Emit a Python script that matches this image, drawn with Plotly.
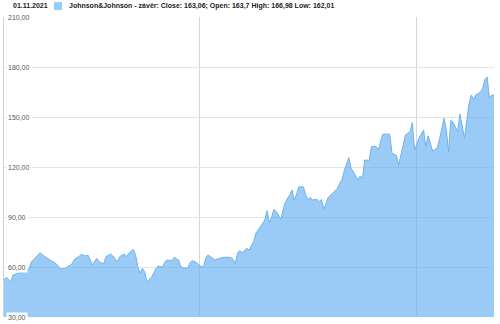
import plotly.graph_objects as go

dates = [
    "2003-11", "2003-12", "2004-02", "2004-03", "2004-05", "2004-07", "2004-08", "2004-10",
    "2004-11", "2005-01", "2005-02", "2005-03", "2005-04", "2005-06", "2005-08", "2005-10",
    "2005-12", "2006-02", "2006-03", "2006-05", "2006-06", "2006-08", "2006-09", "2006-11",
    "2006-12", "2007-02", "2007-04", "2007-05", "2007-07", "2007-08", "2007-10", "2007-11",
    "2008-01", "2008-02", "2008-04", "2008-05", "2008-06", "2008-08", "2008-09", "2008-10",
    "2008-11", "2008-12", "2009-01", "2009-02", "2009-03", "2009-04", "2009-05", "2009-06",
    "2009-07", "2009-09", "2009-10", "2009-11", "2010-01", "2010-02", "2010-04", "2010-05",
    "2010-06", "2010-08", "2010-09", "2010-10", "2010-12", "2011-01", "2011-03", "2011-04",
    "2011-05", "2011-07", "2011-08", "2011-10", "2011-12", "2012-03", "2012-04", "2012-05",
    "2012-06", "2012-07", "2012-08", "2012-10", "2012-11", "2013-01", "2013-02", "2013-04",
    "2013-05", "2013-06", "2013-07", "2013-08", "2013-09", "2013-10", "2013-11", "2014-01",
    "2014-02", "2014-03", "2014-04", "2014-05", "2014-06", "2014-07", "2014-08", "2014-09",
    "2014-11", "2014-12", "2015-01", "2015-02", "2015-03", "2015-05", "2015-06", "2015-07",
    "2015-08", "2015-10", "2015-11", "2015-12", "2016-02", "2016-03", "2016-04", "2016-05",
    "2016-07", "2016-08", "2016-09", "2016-11", "2016-12", "2017-01", "2017-02", "2017-04",
    "2017-05", "2017-07", "2017-08", "2017-10", "2017-11", "2018-01", "2018-02", "2018-04",
    "2018-05", "2018-07", "2018-08", "2018-10", "2018-11", "2018-12", "2019-02", "2019-04",
    "2019-05", "2019-06", "2019-08", "2019-10", "2019-11", "2020-01", "2020-02", "2020-03",
    "2020-04", "2020-05", "2020-07", "2020-08", "2020-09", "2020-10", "2020-12", "2021-01",
    "2021-02", "2021-03", "2021-05", "2021-06", "2021-07", "2021-08", "2021-09", "2021-10",
    "2021-11",
]

close = [
    52.2, 53.8, 51.2, 55.2, 56.2, 56.8, 57.8, 58.6,
    63.0, 66.0, 67.2, 68.6, 67.2, 65.2, 63.6, 62.0,
    58.8, 59.2, 60.0, 61.8, 64.6, 66.2, 67.6, 66.6,
    67.2, 61.2, 65.2, 63.0, 62.0, 66.2, 67.8, 66.6,
    63.2, 66.2, 67.8, 66.2, 68.2, 70.6, 67.2, 60.0,
    56.2, 59.2, 57.2, 50.6, 52.6, 53.8, 56.2, 59.2,
    60.6, 60.0, 63.2, 64.2, 63.8, 65.8, 64.2, 60.0,
    59.6, 59.2, 62.6, 63.8, 62.6, 61.0, 59.8, 65.8,
    67.2, 65.2, 64.2, 65.2, 65.8, 65.8, 64.6, 62.0,
    68.6, 69.8, 68.6, 71.2, 70.2, 75.2, 80.2, 84.2,
    86.2, 88.2, 93.8, 86.6, 90.2, 94.6, 93.2, 88.6,
    94.2, 98.6, 101.2, 103.2, 106.2, 100.2, 103.8, 108.2,
    108.0, 103.2, 100.2, 101.8, 100.2, 100.6, 99.2, 100.6,
    94.6, 101.8, 103.2, 104.2, 107.2, 110.2, 112.2, 117.7,
    125.6, 119.2, 117.2, 112.2, 114.6, 113.2, 124.2, 124.0,
    132.2, 132.4, 130.2, 139.7, 139.7, 139.7, 128.2, 127.0,
    121.2, 132.6, 139.2, 141.2, 146.6, 130.2, 137.5, 142.2,
    132.2, 138.7, 129.5, 131.5, 136.7, 149.2, 142.2, 129.2,
    148.0, 146.8, 141.2, 151.8, 145.2, 137.2, 158.2, 163.2,
    160.4, 163.2, 164.9, 166.9, 172.4, 174.0, 161.2, 163.2,
    163.06,
]

y_ticks = [30, 60, 90, 120, 150, 180, 210]
x_grid = ["2011-01-01", "2019-01-01"]
x_range = ["2003-11-01", "2021-11-01"]

header_date = "01.11.2021"
legend_text = "Johnson&Johnson - závěr: Close: 163,06; Open: 163,7 High: 166,98 Low: 162,01"

FONT = "Liberation Sans, Arial, sans-serif"

fig = go.Figure()
fig.add_trace(go.Scatter(
    x=dates, y=close, mode="lines", fill="tozeroy",
    line=dict(color="rgb(110,178,238)", width=1),
    fillcolor="rgba(95,172,240,0.63)",
    showlegend=False, hoverinfo="skip",
))

annotations = []
for v in y_ticks:
    annotations.append(dict(
        xref="paper", yref="y", x=0, y=v, xanchor="left", yanchor="middle",
        xshift=2, text=f"{v:.2f}".replace(".", ","), showarrow=False,
        font=dict(family=FONT, size=7, color="#555555"),
        bgcolor="rgba(255,255,255,0.95)", borderpad=1,
    ))

annotations.append(dict(
    xref="paper", yref="paper", x=0.014, y=1.037, xanchor="left", yanchor="middle",
    text=f"<b>{header_date}</b>", showarrow=False,
    font=dict(family=FONT, size=7, color="#222222"),
))
annotations.append(dict(
    xref="paper", yref="paper", x=0.1286, y=1.037, xanchor="left", yanchor="middle",
    text=f"<b>{legend_text}</b>", showarrow=False,
    font=dict(family=FONT, size=7, color="#222222"),
))

fig.update_layout(
    width=500, height=324,
    margin=dict(l=4, r=6, t=17, b=7),
    paper_bgcolor="white", plot_bgcolor="white",
    annotations=annotations,
    shapes=[dict(
        type="rect", xref="paper", yref="paper",
        x0=0.102, x1=0.1184, y0=1.0233, y1=1.05,
        fillcolor="rgb(153,204,245)", line=dict(width=0),
    )],
    xaxis=dict(
        type="date", range=x_range, tickvals=x_grid, showticklabels=False,
        showgrid=True, gridcolor="#d6d6d6", gridwidth=1, zeroline=False,
        showline=False, ticks="",
    ),
    yaxis=dict(
        range=[30, 210], tickvals=y_ticks, showticklabels=False,
        showgrid=True, gridcolor="#e4e4e4", gridwidth=1, zeroline=False,
        showline=True, linecolor="#d0d0d0", linewidth=1, ticks="",
    ),
)

fig.write_html("out.html")
